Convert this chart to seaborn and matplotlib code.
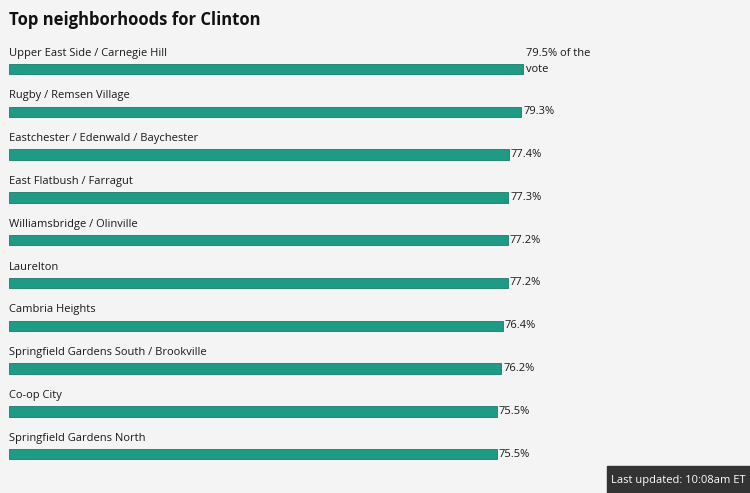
import pandas as pd
import matplotlib.pyplot as plt
import seaborn as sns

neighborhoods = [
    "Upper East Side / Carnegie Hill",
    "Rugby / Remsen Village",
    "Eastchester / Edenwald / Baychester",
    "East Flatbush / Farragut",
    "Williamsbridge / Olinville",
    "Laurelton",
    "Cambria Heights",
    "Springfield Gardens South / Brookville",
    "Co-op City",
    "Springfield Gardens North",
]
vote_share = [79.5, 79.3, 77.4, 77.3, 77.2, 77.2, 76.4, 76.2, 75.5, 75.5]

df = pd.DataFrame({"name": neighborhoods, "pct": vote_share})

sns.set_theme(style="white")
plt.rcParams['font.family'] = ['Open Sans', 'DejaVu Sans']

W, H = 750, 493
fig = plt.figure(figsize=(7.5, 4.93), dpi=100, facecolor="#f4f4f4")
# x: 0 at px 9, 100 at px 655 ; y covers whole figure
ax = fig.add_axes([9 / W, 0, (655 - 9) / W, 1])
ax.set_facecolor("#f4f4f4")

sns.barplot(data=df, y="name", x="pct", orient="h", color="#1f9a85",
            width=0.24, saturation=1, edgecolor="#177c6b", linewidth=0.6, ax=ax)

ax.set_xlim(0, 100)
step = 42.8
ax.set_ylim((H - 69) / step, -69 / step)
ax.axis("off")

for i, (name, v) in enumerate(zip(neighborhoods, vote_share)):
    ax.text(0, i - 0.37, name, va="center", ha="left", fontsize=8, color="#1a1a1a")
    if i == 0:
        ax.text(v + 0.5, i - 0.37, f"{v}% of the", va="center", ha="left", fontsize=8, color="#1a1a1a")
        ax.text(v + 0.5, i, "vote", va="center", ha="left", fontsize=8, color="#1a1a1a")
    else:
        ax.text(v + 0.3, i, f"{v}%", va="center", ha="left", fontsize=8, color="#1a1a1a")

fig.text(9 / W, 1 - 20 / H, "Top neighborhoods for Clinton", fontsize=12,
         fontweight="bold", va="center", ha="left", color="#111111")

fig.patches.append(plt.Rectangle((607 / W, 0), (W - 607) / W, 27 / H,
                                 transform=fig.transFigure, color="#333333", zorder=5))
fig.text(678 / W, 13 / H, "Last updated: 10:08am ET", fontsize=8, color="white",
         va="center", ha="center", zorder=6)

fig.savefig("out.png", dpi=100, facecolor=fig.get_facecolor())
